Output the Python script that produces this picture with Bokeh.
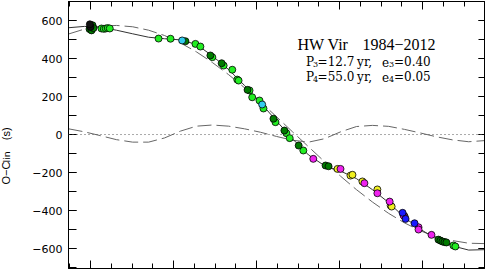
import numpy as np
from bokeh.plotting import figure
from bokeh.models import Range1d, LinearAxis, SingleIntervalTicker, Span, Label
from bokeh.embed import file_html
from bokeh.resources import INLINE

# x: cycle number E / 1000 ; y: O-C_lin in seconds
curve_e = [-6.6, -1.8, 3.0, 7.8, 12.7, 17.5, 22.3, 27.1, 31.9, 36.7, 41.6, 46.4, 51.2, 56.0,
           60.8, 65.7, 70.5, 75.3, 80.1, 84.9, 89.8, 94.6, 99.4, 104.2, 109.0, 113.9, 118.7]
curve_total = [562, 569, 564, 549, 530, 512, 504, 498, 474, 414, 342, 258, 168, 72,
               -22, -108, -164, -192, -232, -290, -358, -437, -499, -550, -586, -608, -606]
curve_p55 = [529, 555, 570, 574, 567, 549, 521, 482, 435, 379, 315, 246, 172, 94,
             15, -65, -143, -219, -290, -355, -415, -465, -507, -539, -558, -572, -574]
curve_p12 = [30, 14, -6, -27, -40, -40, -18, 18, 44, 50, 44, 30, 12, -10,
             -30, -40, -22, 14, 42, 48, 43, 27, 8, -12, -28, -38, -32]

green_e = [3.3, 4.0, 4.6, 5.2, 5.8, 20.5, 24.1, 31.6, 33.1, 36.7, 40.1, 42.7, 44.2, 44.6,
           47.9, 48.7, 50.9, 52.1, 55.7, 59.0, 60.0, 64.1, 109.3, 109.9]
green_oc = [558, 556, 558, 560, 558, 505, 504, 477, 463, 407, 363, 341, 289, 284,
            232, 196, 179, 137, 65, 7, -19, -84, -584, -589]
dkgreen_e = [-0.3, 0.3, 0.6, 0.9, 28.6, 36.1, 39.5, 47.3, 55.1, 58.4, 62.7, 70.8, 71.7,
             104.8, 105.4, 106.0, 106.6, 107.2]
dkgreen_oc = [555, 548, 575, 560, 491, 416, 375, 235, 83, 21, -58, -163, -167,
              -553, -558, -563, -566, -568]
black_e = [0.0, -0.2]
black_oc = [566, 580]
cyan_e = [27.6, 51.7]
cyan_oc = [495, 158]
yellow_e = [74.4, 78.3, 78.9, 81.9, 86.4, 90.4, 90.7, 94.6]
yellow_oc = [-181, -216, -212, -247, -289, -374, -379, -430]
magenta_e = [67.1, 75.3, 82.5, 86.4, 90.1, 94.3, 98.8, 98.8, 102.7]
magenta_oc = [-128, -181, -256, -309, -353, -426, -488, -500, -528]
blue_e = [94.0, 94.9, 97.6]
blue_oc = [-412, -444, -467]

y_tick_labels = {600: "600", 400: "400", 200: "200", 0: "0",
                 -200: "\u2212200", -400: "\u2212400", -600: "\u2212600"}

p = figure(width=485, height=270, output_backend="svg", toolbar_location=None,
           x_range=Range1d(-6.63, 118.67), y_range=Range1d(-705, 700),
           x_axis_type=None, y_axis_type=None,
           min_border_left=68, min_border_right=1, min_border_top=1, min_border_bottom=2)
p.outline_line_color = "black"
p.outline_line_width = 1
p.background_fill_color = "white"
p.border_fill_color = "white"

def mk_axis(ticker, tin, tmin, labels):
    ax = LinearAxis(ticker=ticker)
    ax.major_tick_in = tin
    ax.major_tick_out = 0
    ax.minor_tick_in = tmin
    ax.minor_tick_out = 0
    ax.axis_line_color = "black"
    ax.major_tick_line_color = "black"
    ax.minor_tick_line_color = "black"
    if labels is None:
        ax.major_label_text_color = None
        ax.major_label_standoff = 0
    else:
        ax.major_label_overrides = labels
        ax.major_label_standoff = 6
        ax.major_label_text_font = "DejaVu Sans"
        ax.major_label_text_font_size = "11px"
        ax.major_label_text_color = "black"
    return ax

yt = SingleIntervalTicker(interval=200, num_minor_ticks=2)
xt = SingleIntervalTicker(interval=25, num_minor_ticks=4)
p.add_layout(mk_axis(yt, 8, 8, y_tick_labels), "left")
p.add_layout(mk_axis(SingleIntervalTicker(interval=200, num_minor_ticks=2), 6, 6, None), "right")
p.add_layout(mk_axis(xt, 8, 5, None), "below")
p.add_layout(mk_axis(SingleIntervalTicker(interval=25, num_minor_ticks=4), 8, 5, None), "above")

# y-axis title pieces, placed in the left border panel (screen units)
p.add_layout(Label(x=-12, y=84, x_units="screen", y_units="screen",
                   text="O\u2212C\u00a0\u00a0\u00a0\u00a0\u00a0\u00a0\u00a0(s)",
                   text_font="Liberation Sans", text_font_size="11px", text_color="black",
                   angle=np.pi / 2, text_align="left", text_baseline="middle"), "left")
p.add_layout(Label(x=-0.5, y=106, x_units="screen", y_units="screen", text="lin",
                   text_font="DejaVu Sans", text_font_size="9.5px", text_color="black",
                   angle=np.pi / 2, text_align="left", text_baseline="middle"), "left")

p.add_layout(Span(location=0, dimension="width", line_color="#555555",
                  line_dash="1 3", line_width=1))

p.line(curve_e, curve_p12, line_color="#666666", line_width=1, line_dash="14 5")
p.line(curve_e, curve_p55, line_color="#666666", line_width=1, line_dash="14 5")
p.line(curve_e, curve_total, line_color="#333333", line_width=1)

def pts(xs, ys, color):
    p.scatter(xs, ys, size=7, fill_color=color, line_color="#000000", line_width=0.8)

pts(green_e, green_oc, "#22ee22")
pts(dkgreen_e, dkgreen_oc, "#007a00")
pts(black_e, black_oc, "#111111")
pts(cyan_e, cyan_oc, "#33ccee")
pts(yellow_e, yellow_oc, "#f0f020")
pts(magenta_e, magenta_oc, "#ee22ee")
pts(blue_e, blue_oc, "#1a1aff")

def txt(x, y, s, font, size):
    p.add_layout(Label(x=x, y=y, text=s, text_font=font, text_font_size=size,
                       text_color="black", text_baseline="alphabetic"))

# title block
txt(62.35, 476, "HW", "Liberation Serif", "16px")
txt(71.4, 476, "Vir", "Liberation Serif", "16px")
txt(81.9, 476, "1984\u22122012", "Liberation Serif", "16px")
for base, sub, n, pv, ev in [(380, 366, "3", "=12.7", "=0.40"), (305, 291, "4", "=55.0", "=0.05")]:
    txt(64.9, base, "P", "DejaVu Serif", "12px")
    txt(67.0, sub, n, "DejaVu Serif", "8px")
    txt(68.4, base, pv, "DejaVu Serif", "12px")
    txt(80.3, base, "yr,", "DejaVu Serif", "12px")
    txt(87.8, base, "e", "DejaVu Serif", "12px")
    txt(89.9, sub, n, "DejaVu Serif", "8px")
    txt(91.4, base, ev, "DejaVu Serif", "12px")

open("out.html", "w").write(file_html(p, INLINE))
